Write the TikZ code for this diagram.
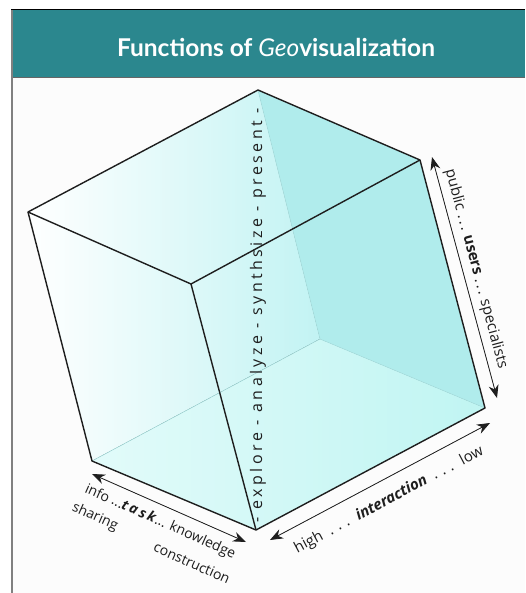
\documentclass[tikz,border=0pt]{standalone}
\usepackage{fontspec}
\setmainfont{Open Sans}
\newfontfamily\titlefont{Lato}
\usetikzlibrary{arrows.meta}
\definecolor{headteal}{HTML}{2B878E}
\definecolor{backR}{HTML}{B0ECEC}
\definecolor{backL}{HTML}{C2F3F3}
\definecolor{botR}{HTML}{C0F5F2}
\definecolor{botL}{HTML}{E2FBFA}
\definecolor{hid}{HTML}{A6DEDE}
\definecolor{ink}{HTML}{1E1E1E}
\definecolor{panel}{HTML}{FCFCFC}
\begin{document}
\begin{tikzpicture}[x=1pt,y=-1pt,
  edge/.style={draw=ink, line width=1.4pt, line join=round},
  hidden/.style={draw=hid, line width=0.5pt},
  dbl/.style={{Stealth[length=13pt,width=10pt]}-{Stealth[length=13pt,width=10pt]}, draw=ink, fill=ink, line width=0.8pt},
  lbl/.style={inner sep=0pt, font=\fontsize{14}{16}\selectfont, text=ink},
  vlbl/.style={inner sep=0pt, font=\fontsize{16}{18}\selectfont\addfontfeatures{LetterSpace=21.5}, text=ink},
  ttl/.style={inner sep=0pt, font=\titlefont\bfseries\fontsize{24.5}{28}\selectfont, text=white}]
\useasboundingbox (0,0) rectangle (525,593);
\fill[white] (0,0) rectangle (525,593);
\fill[panel] (11,78) rectangle (525,593);
\fill[headteal] (11,10) rectangle (525,78);
\draw[black, line width=1pt] (11,10) -- (525,10);
\draw[gray!80!black, line width=1pt] (11,78) -- (525,78);
\draw[gray, line width=2pt] (12,10) -- (12,593);
\node[ttl] (title) at (276,47) {Functions of {\mdseries\itshape Geo}visualization};
% cube vertices
\coordinate (T) at (258,90);
\coordinate (L) at (28,212);
\coordinate (F) at (191,284);
\coordinate (R) at (420,160);
\coordinate (BR) at (485,408);
\coordinate (BF) at (256,530);
\coordinate (BL) at (92,461);
\coordinate (H) at (320,339);
% faces
\fill[left color=white, right color=backL] (T) -- (L) -- (BL) -- (H) -- cycle;
\fill[left color=botL, right color=botR] (BL) -- (H) -- (BR) -- (BF) -- cycle;
\fill[backR] (T) -- (R) -- (BR) -- (H) -- cycle;
\draw[hidden] (T) -- (H) -- (BR);
\draw[hidden] (H) -- (BL);
% visible edges
\draw[edge] (T) -- (R) -- (BR) -- (BF) -- (BL) -- (L) -- cycle;
\draw[edge] (L) -- (F) -- (R);
\draw[edge] (F) -- (BF);
% arrows
\coordinate (u1) at (432,157);
\coordinate (u2) at (497,398);
\coordinate (t1) at (92,474);
\coordinate (t2) at (246,542);
\coordinate (i1) at (270,540);
\coordinate (i2) at (490,423);
\draw[dbl] (u1) -- (u2);
\draw[dbl] (t1) -- (t2);
\draw[dbl] (i1) -- (i2);
% labels
\node[vlbl, rotate=90] (funcs) at (258,315) {- explore - analyze - synthsize - present -};
\node[lbl, rotate=-75, font=\fontsize{15}{17}\selectfont] (users) at (476,269) {public .\,.\,. \textbf{users} .\,.\,. specialists};
\node[lbl, rotate=-24] (task) at (160,522) {info ...\textbf{\textit{t\,a\,s\,k}}... knowledge};
\node[lbl, rotate=-24] (sharing) at (95,517) {sharing};
\node[lbl, rotate=-24] (constr) at (192,563) {construction};
\node[lbl, rotate=28, font=\fontsize{15}{17}\selectfont] (inter) at (389,500) {high~ . . . ~\textbf{\textit{interaction}}~ . . . ~low};
\end{tikzpicture}
\end{document}
